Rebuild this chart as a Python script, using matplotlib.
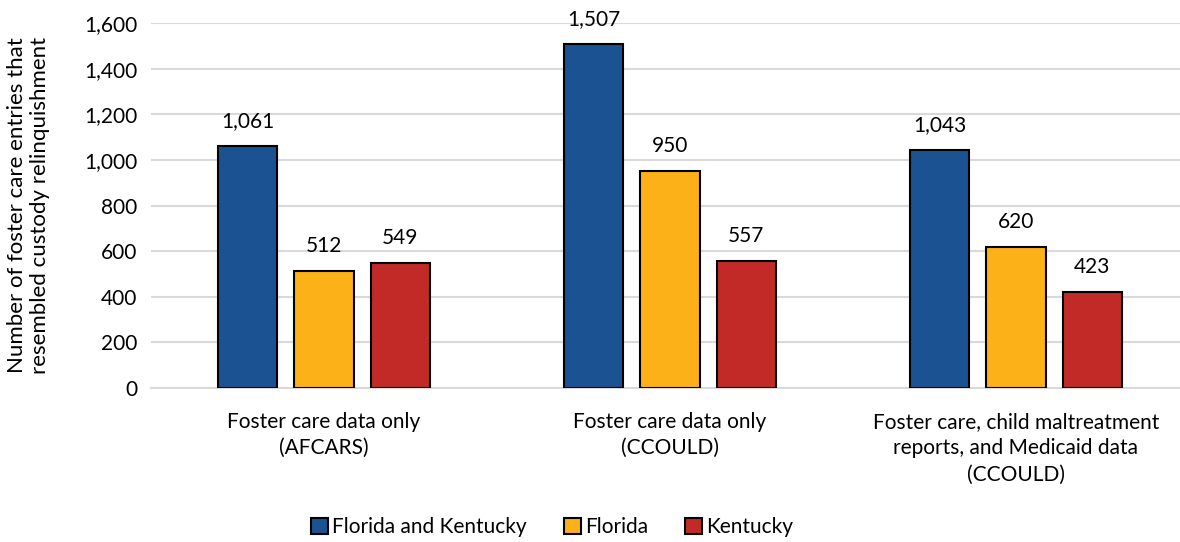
import matplotlib
matplotlib.use('Agg')
import matplotlib.pyplot as plt
import numpy as np

plt.rcParams['font.family'] = ['Lato', 'DejaVu Sans']

categories = ['Foster care data only\n(AFCARS)',
              'Foster care data only\n(CCOULD)',
              'Foster care, child maltreatment\nreports, and Medicaid data\n(CCOULD)']
series_names = ['Florida and Kentucky', 'Florida', 'Kentucky']
fl_ky = [1061, 1507, 1043]
florida = [512, 950, 620]
kentucky = [549, 557, 423]
colors = ['#1B5291', '#FBB117', '#C12A26']

fig = plt.figure(figsize=(11.8, 5.42), dpi=100)
ax = fig.add_axes([151 / 1180, 1 - 388 / 542, 1029 / 1180, 365 / 542])

x = np.arange(len(categories))
width = 0.173
step = 0.221
for i, (vals, name, c) in enumerate(zip([fl_ky, florida, kentucky], series_names, colors)):
    pos = x + (i - 1) * step
    bars = ax.bar(pos, vals, width, color=c, edgecolor='black', linewidth=1.5,
                  label=name, zorder=3)
    for b, v in zip(bars, vals):
        ax.text(b.get_x() + b.get_width() / 2, v + 65, f'{v:,}',
                ha='center', va='bottom', fontsize=15)

ax.set_ylim(0, 1600)
ax.set_xlim(-0.5, 2.474)
ax.set_yticks(range(0, 1601, 200))
ax.set_yticklabels([f'{v:,}' for v in range(0, 1601, 200)], fontsize=15)
ax.set_xticks(x)
ax.set_xticklabels(categories, fontsize=15, linespacing=1.4)
ax.tick_params(length=0, pad=10)
ax.tick_params(axis='x', pad=17)
ax.yaxis.grid(True, color='#d9d9d9', linewidth=1.5, zorder=0)
for s in ['top', 'right', 'left']:
    ax.spines[s].set_visible(False)
ax.spines['bottom'].set_color('#d9d9d9')
ax.spines['bottom'].set_linewidth(1.5)

ax.set_ylabel('Number of foster care entries that\nresembled custody relinquishment',
              fontsize=16, linespacing=1.2)
ax.yaxis.set_label_coords(-0.098, 0.5)

fig.legend(loc='center', bbox_to_anchor=(552 / 1180, 1 - 527 / 542), ncol=3,
           frameon=False, fontsize=15, handlelength=0.8, handleheight=0.8,
           handletextpad=0.2, columnspacing=1.8)

fig.savefig('out.png', dpi=100)
